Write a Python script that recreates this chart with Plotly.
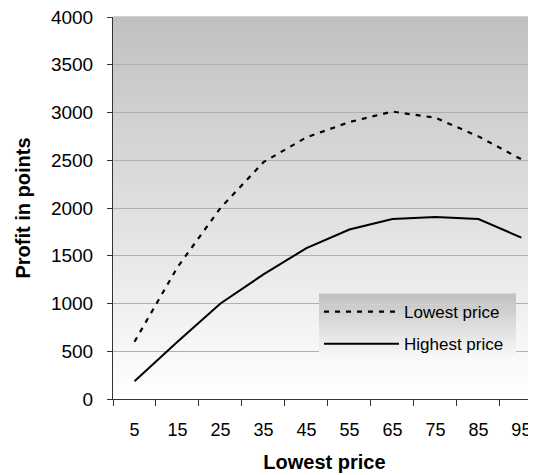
import plotly.graph_objects as go

categories = ["5", "15", "25", "35", "45", "55", "65", "75", "85", "95"]
lowest_price = [600, 1380, 2000, 2480, 2740, 2900, 3010, 2945, 2750, 2510]
highest_price = [185, 600, 1000, 1305, 1580, 1775, 1885, 1905, 1885, 1690]
y_ticks = [0, 500, 1000, 1500, 2000, 2500, 3000, 3500, 4000]

FONT = "Liberation Sans, Arial, sans-serif"

fig = go.Figure()
fig.add_trace(go.Scatter(
    x=categories, y=lowest_price, mode="lines", name="Lowest price",
    line=dict(color="black", width=2.2, dash="5px,6px"),
    legendgroup="a",
))
fig.add_trace(go.Scatter(
    x=categories, y=highest_price, mode="lines", name="Highest price",
    line=dict(color="black", width=2),
    legendgroup="b",
))

# page offset: the browser body has an 8px margin
OFF = 8
PL, PT, PW, PH = 113 - OFF, 17 - OFF, 423, 382

shapes = []
# plot-area vertical gradient
N = 80
for i in range(N):
    f0 = i / N
    f1 = (i + 1) / N
    fm = (f0 + f1) / 2
    c = int(round(255 - (255 - 192) * fm))
    shapes.append(dict(type="rect", xref="paper", yref="paper",
                       x0=0, x1=1, y0=f0, y1=f1 + 0.002,
                       fillcolor=f"rgb({c},{c},{c})", line=dict(width=0),
                       layer="below"))

# legend box gradient
lx0, lx1 = (319 - 113) / PW, (516 - 113) / PW
ly0, ly1 = (399 - 359) / PH, (399 - 294) / PH
M = 30
for i in range(M):
    f0 = ly0 + (ly1 - ly0) * i / M
    f1 = ly0 + (ly1 - ly0) * (i + 1) / M
    fm = (i + 0.5) / M
    c = int(round(250 - (250 - 193) * fm))
    shapes.append(dict(type="rect", xref="paper", yref="paper",
                       x0=lx0, x1=lx1, y0=f0, y1=f1 + 0.001,
                       fillcolor=f"rgb({c},{c},{c})", line=dict(width=0),
                       layer="above"))

W, H = 536 - OFF, 475 - OFF
fig.update_layout(
    width=W, height=H,
    margin=dict(l=PL, r=W - PL - PW, t=PT, b=H - PT - PH, autoexpand=False),
    paper_bgcolor="white", plot_bgcolor="rgba(0,0,0,0)",
    font=dict(family=FONT, color="black", size=17),
    shapes=shapes,
    showlegend=True,
    legend=dict(
        x=lx0, y=ly1, xanchor="left", yanchor="top",
        bgcolor="rgba(0,0,0,0)", borderwidth=0,
        font=dict(family=FONT, size=17, color="black"),
        itemwidth=75, tracegroupgap=7, traceorder="grouped",
    ),
    xaxis=dict(
        type="category", range=[-0.5, 9.34],
        tickson="boundaries", ticks="outside", ticklen=6, tickcolor="#333",
        showline=True, linecolor="#333", linewidth=1,
        showgrid=False, zeroline=False,
        tickfont=dict(family=FONT, size=18),
        ticklabelstandoff=14, ticklabeloverflow="allow",
        title=dict(text="<b>Lowest price</b>",
                   font=dict(family=FONT, size=20), standoff=16),
    ),
    yaxis=dict(
        range=[0, 4000], tickvals=y_ticks,
        ticks="outside", ticklen=5, tickcolor="#333",
        showline=True, linecolor="#333", linewidth=1,
        showgrid=True, gridcolor="#b0b0b0", gridwidth=1,
        zeroline=False,
        tickfont=dict(family=FONT, size=19),
        ticklabelstandoff=10, ticklabeloverflow="allow",
        title=dict(text="<b>Profit in points</b>",
                   font=dict(family=FONT, size=20), standoff=14),
    ),
)

fig.write_html("out.html")
